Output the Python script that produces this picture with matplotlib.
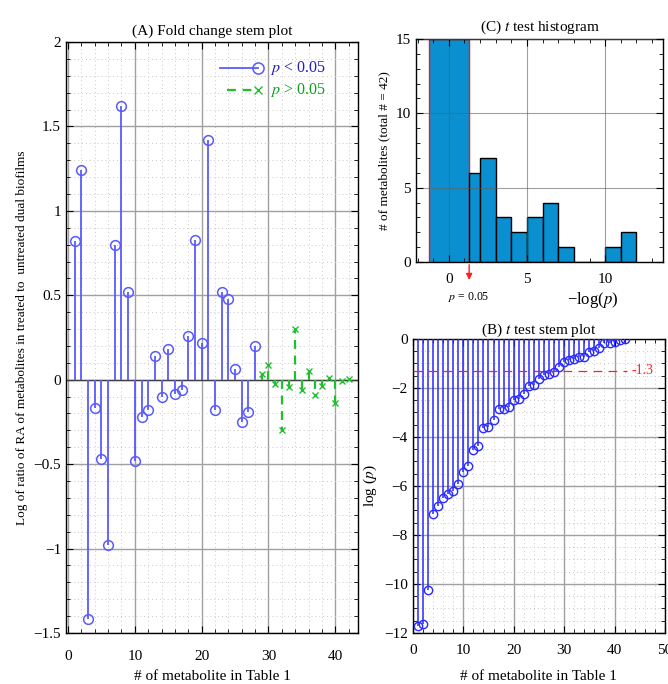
import numpy as np
import matplotlib
matplotlib.use("Agg")
import matplotlib.pyplot as plt
from matplotlib.ticker import MultipleLocator, FuncFormatter

plt.rcParams["font.family"] = ["Liberation Serif", "DejaVu Serif"]
plt.rcParams["mathtext.fontset"] = "stix"

# (A) fold change, metabolites 1..42
fc_sig_idx = list(range(1, 29))
fc_sig = [0.82, 1.24, -1.42, -0.17, -0.47, -0.98, 0.80, 1.62, 0.52, -0.48,
          -0.22, -0.18, 0.14, -0.10, 0.18, -0.085, -0.063, 0.26, 0.83, 0.22,
          1.42, -0.18, 0.52, 0.48, 0.065, -0.25, -0.19, 0.20]
fc_ns_idx = list(range(29, 43))
fc_ns = [0.035, 0.09, -0.025, -0.30, -0.045, 0.30, -0.06, 0.05, -0.093,
         -0.035, 0.01, -0.14, -0.01, 0.005]

# (B) sorted log(p)
logp_idx = list(range(1, 43))
logp = [-11.73, -11.63, -10.23, -7.14, -6.83, -6.49, -6.31, -6.22, -5.92, -5.44,
        -5.17, -4.52, -4.35, -3.63, -3.61, -3.32, -2.84, -2.84, -2.79, -2.48,
        -2.44, -2.23, -1.90, -1.88, -1.62, -1.47, -1.44, -1.35, -1.14, -0.93,
        -0.87, -0.80, -0.75, -0.75, -0.54, -0.48, -0.38, -0.16, -0.18, -0.14,
        -0.05, -0.01]
thresh = -1.3

# (C) histogram of -log(p)
hist_left = [-1.3, 1.3, 2, 3, 4, 5, 6, 7, 8, 9, 10, 11]
hist_right = [1.3, 2, 3, 4, 5, 6, 7, 8, 9, 10, 11, 12]
hist_count = [15, 6, 7, 3, 2, 3, 4, 1, 0, 0, 1, 2]

BLUE_A = "#5a5aff"
BLUE_B = "#2a2aff"
GREEN = "#1fbf2f"
BAR = "#0a8fd0"

short_fmt = FuncFormatter(lambda v, _: ("%g" % v).replace("-", "\u2212"))


def style_axes(ax):
    for s in ax.spines.values():
        s.set_color("black")
        s.set_linewidth(1.0)
    ax.tick_params(which="both", direction="in", top=True, right=True,
                   labelsize=11)
    ax.tick_params(which="major", length=5)
    ax.tick_params(which="minor", length=3)


fig = plt.figure(figsize=(6.68, 6.84), dpi=100)

# ---- (A) fold change stem plot
axA = fig.add_axes([0.0988, 0.0746, 0.4372, 0.864])
axA.set_xlim(-0.3, 43.4)
axA.set_ylim(-1.5, 2)
axA.xaxis.set_major_locator(MultipleLocator(10))
axA.xaxis.set_minor_locator(MultipleLocator(2))
axA.yaxis.set_major_locator(MultipleLocator(0.5))
axA.yaxis.set_minor_locator(MultipleLocator(0.1))
axA.yaxis.set_major_formatter(short_fmt)
axA.grid(which="major", color="#a0a0a0", lw=1.0)
axA.grid(which="minor", color="#c8c8c8", lw=0.7, ls=(0, (1, 3)))
axA.set_axisbelow(True)
axA.axhline(0, color="#404040", lw=1.0, zorder=2)
axA.vlines(fc_sig_idx, 0, fc_sig, color=BLUE_A, lw=1.3, zorder=3)
axA.plot(fc_sig_idx, fc_sig, "o", ms=7, mfc="none", mec=BLUE_A, mew=1.1, zorder=4)
axA.vlines(fc_ns_idx, 0, fc_ns, color=GREEN, lw=1.6, linestyles=(0, (4, 3)), zorder=3)
axA.plot(fc_ns_idx, fc_ns, "x", ms=5, mec=GREEN, mew=1.0, zorder=4)
style_axes(axA)
axA.tick_params(axis="x", pad=12)
axA.set_title("(A) Fold change stem plot", fontsize=11, pad=5)
axA.set_xlabel("# of metabolite in Table 1", fontsize=11, labelpad=5)
axA.set_ylabel("Log of ratio of RA of metabolites in treated to  untreated dual biofilms",
               fontsize=9.5)

# legend drawn in axes coordinates
axA.plot([0.527, 0.658], [0.956, 0.956], color=BLUE_A, lw=1.3, transform=axA.transAxes)
axA.plot([0.658], [0.956], "o", ms=8, mfc="none", mec=BLUE_A, mew=1.1,
         transform=axA.transAxes)
axA.text(0.70, 0.956, "$p$ < 0.05", color="#2020c0", fontsize=11.5, va="center",
         transform=axA.transAxes)
axA.plot([0.55, 0.658], [0.919, 0.919], color=GREEN, lw=1.6, ls=(0, (4, 3)),
         transform=axA.transAxes)
axA.plot([0.658], [0.919], "x", ms=6, mec=GREEN, mew=1.0, transform=axA.transAxes)
axA.text(0.70, 0.919, "$p$ > 0.05", color="#10a020", fontsize=11.5, va="center",
         transform=axA.transAxes)

# ---- (C) t test histogram
axC = fig.add_axes([0.6228, 0.617, 0.3697, 0.326])
axC.set_xlim(-2.1, 13.7)
axC.set_ylim(0, 15)
widths = [r - l for l, r in zip(hist_left, hist_right)]
edges = ["#e02020"] + ["black"] * (len(hist_left) - 1)
axC.bar(hist_left, hist_count, width=widths, align="edge", color=BAR,
        edgecolor=edges, lw=1.0, zorder=2)
axC.xaxis.set_major_locator(MultipleLocator(5))
axC.xaxis.set_minor_locator(MultipleLocator(1))
axC.yaxis.set_major_locator(MultipleLocator(5))
axC.yaxis.set_minor_locator(MultipleLocator(1))
axC.grid(which="major", color="#606060", lw=0.8, alpha=0.6, zorder=3)
axC.set_axisbelow(False)
style_axes(axC)
axC.tick_params(axis="x", pad=8)
axC.annotate("", xy=(1.3, -1.4), xytext=(1.3, 0), xycoords="data",
             arrowprops=dict(arrowstyle="-|>", color="#ff2020", lw=1.0,
                             mutation_scale=9), annotation_clip=False)
axC.text(1.3, -1.9, "$p$ = 0.05", fontsize=8.5, ha="center", va="top")
axC.text(9.2, -2.55, "\u2212log($p$)", fontsize=12, ha="center", va="center")
axC.set_title("(C) $t$ test histogram", fontsize=11, pad=6)
axC.set_ylabel("# of metabolites (total # = 42)", fontsize=9.5)

# ---- (B) t test stem plot
axB = fig.add_axes([0.618, 0.0746, 0.3775, 0.4298])
axB.set_xlim(0, 50)
axB.set_ylim(-12, 0)
axB.xaxis.set_major_locator(MultipleLocator(10))
axB.xaxis.set_minor_locator(MultipleLocator(2))
axB.yaxis.set_major_locator(MultipleLocator(2))
axB.yaxis.set_minor_locator(MultipleLocator(0.5))
axB.grid(which="major", color="#a0a0a0", lw=1.0)
axB.grid(which="minor", color="#c8c8c8", lw=0.7, ls=(0, (1, 3)))
axB.set_axisbelow(True)
axB.vlines(logp_idx, 0, logp, color=BLUE_B, lw=1.1, zorder=3)
axB.plot(logp_idx, logp, "o", ms=6, mfc="none", mec=BLUE_B, mew=1.0, zorder=4)
axB.plot([0, 42.5], [thresh, thresh], color="#ff2020", lw=0.9, ls=(0, (7, 5)), zorder=5)
axB.text(45.5, thresh, "-1.3", color="#ff2020", fontsize=10, ha="center", va="center")
style_axes(axB)
axB.tick_params(axis="x", pad=8)
axB.set_title("(B) $t$ test stem plot", fontsize=11, pad=3)
axB.set_xlabel("# of metabolite in Table 1", fontsize=11, labelpad=9)
axB.set_ylabel("log ($p$)", fontsize=11)

fig.savefig("out.png", dpi=100)
